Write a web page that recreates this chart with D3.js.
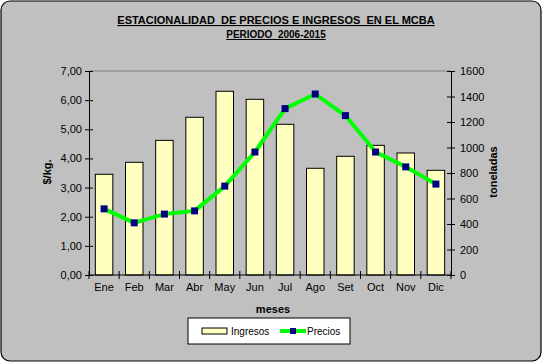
<!DOCTYPE html>
<html>
<head>
<meta charset="utf-8">
<script src="https://cdn.jsdelivr.net/npm/d3@7"></script>
<style>
  body { margin: 0; background: #fff; }
  text { font-family: Arial, "Liberation Sans", sans-serif; }
</style>
</head>
<body>
<script>
// months, tonnage (Ingresos) and price (Precios)
const meses = ['Ene', 'Feb', 'Mar', 'Abr', 'May', 'Jun', 'Jul', 'Ago', 'Set', 'Oct', 'Nov', 'Dic'];
const ingresos = [790, 884, 1056, 1237, 1441, 1378, 1182, 837, 931, 1017, 957, 821];
const precios = [2.27, 1.79, 2.09, 2.20, 3.05, 4.22, 5.71, 6.21, 5.47, 4.22, 3.71, 3.12];
const leftTicks = [0, 1, 2, 3, 4, 5, 6, 7];
const rightTicks = [0, 200, 400, 600, 800, 1000, 1200, 1400, 1600];

const w = 543, h = 363;
const margin = { top: 71, right: 92, bottom: 88, left: 89 };

const svg = d3.select('body').append('svg')
  .attr('width', w)
  .attr('height', h);

// chart background with rounded border
svg.append('rect')
  .attr('x', 1).attr('y', 1)
  .attr('width', w - 3).attr('height', h - 3)
  .attr('rx', 9)
  .attr('fill', '#c0c0c0')
  .attr('stroke', '#000')
  .attr('stroke-width', 1.2);

// titles
svg.append('text')
  .attr('x', 276).attr('y', 24)
  .attr('text-anchor', 'middle')
  .attr('font-size', 11).attr('font-weight', 'bold')
  .attr('text-decoration', 'underline')
  .style('white-space', 'pre')
  .text('ESTACIONALIDAD  DE PRECIOS E INGRESOS  EN EL MCBA');
svg.append('text')
  .attr('x', 276).attr('y', 38)
  .attr('text-anchor', 'middle')
  .attr('font-size', 10).attr('font-weight', 'bold')
  .attr('text-decoration', 'underline')
  .style('white-space', 'pre')
  .text('PERIODO  2006-2015');

// scales in page coordinates
const plotL = margin.left, plotR = w - margin.right;
const plotT = margin.top, plotB = h - margin.bottom;
const x = d3.scaleBand()
  .domain(meses)
  .range([plotL, plotR])
  .paddingInner(0.42)
  .paddingOuter(0.21);
const xBound = d3.scaleLinear().domain([0, meses.length]).range([plotL, plotR]);
const yLeft = d3.scaleLinear().domain([0, 7]).range([plotB, plotT]);
const yRight = d3.scaleLinear().domain([0, 1600]).range([plotB, plotT]);

// plot area top border
svg.append('line')
  .attr('x1', plotL).attr('x2', plotR)
  .attr('y1', plotT).attr('y2', plotT)
  .attr('stroke', '#808080');

// bars
svg.selectAll('rect.bar')
  .data(ingresos)
  .enter()
  .append('rect')
  .attr('class', 'bar')
  .attr('x', (d, i) => x(meses[i]))
  .attr('y', d => yRight(d))
  .attr('width', x.bandwidth())
  .attr('height', d => plotB - yRight(d))
  .attr('fill', '#ffffc0')
  .attr('stroke', '#000')
  .attr('stroke-width', 1);

// left axis
const yAxisL = d3.axisLeft(yLeft)
  .tickValues(leftTicks)
  .tickSizeInner(4).tickSizeOuter(0)
  .tickFormat(d => d3.format('.2f')(d).replace('.', ','));
const gl = svg.append('g')
  .attr('transform', `translate(${plotL},0)`)
  .call(yAxisL);
gl.selectAll('.tick line').attr('x2', 4).attr('x1', -4);
gl.selectAll('text').attr('font-size', 11).attr('x', -7).attr('fill', '#000');

// right axis
const yAxisR = d3.axisRight(yRight)
  .tickValues(rightTicks)
  .tickSizeInner(4).tickSizeOuter(0)
  .tickFormat(d3.format('d'));
const gr = svg.append('g')
  .attr('transform', `translate(${plotR},0)`)
  .call(yAxisR);
gr.selectAll('.tick line').attr('x1', -4).attr('x2', 4);
gr.selectAll('text').attr('font-size', 11).attr('x', 9).attr('fill', '#000');

// bottom axis: ticks at category boundaries, labels centred on bars
svg.append('line')
  .attr('x1', plotL).attr('x2', plotR)
  .attr('y1', plotB).attr('y2', plotB)
  .attr('stroke', '#000');
svg.selectAll('line.tk')
  .data(d3.range(meses.length + 1))
  .enter()
  .append('line')
  .attr('class', 'tk')
  .attr('x1', d => xBound(d)).attr('x2', d => xBound(d))
  .attr('y1', plotB - 4).attr('y2', plotB + 4)
  .attr('stroke', '#000');
svg.selectAll('text.xl')
  .data(meses)
  .enter()
  .append('text')
  .attr('class', 'xl')
  .attr('x', d => x(d) + x.bandwidth() / 2)
  .attr('y', plotB + 16)
  .attr('text-anchor', 'middle')
  .attr('font-size', 11)
  .text(d => d);

// price line
const line = d3.line()
  .x((d, i) => x(meses[i]) + x.bandwidth() / 2)
  .y(d => yLeft(d));
svg.append('path')
  .datum(precios)
  .attr('d', line)
  .attr('fill', 'none')
  .attr('stroke', '#00ff00')
  .attr('stroke-width', 4)
  .attr('stroke-linejoin', 'round');

svg.selectAll('rect.mk')
  .data(precios)
  .enter()
  .append('rect')
  .attr('class', 'mk')
  .attr('x', (d, i) => x(meses[i]) + x.bandwidth() / 2 - 3.5)
  .attr('y', d => yLeft(d) - 3.5)
  .attr('width', 7).attr('height', 7)
  .attr('fill', '#000080');

// axis titles
svg.append('text')
  .attr('transform', 'translate(51,172) rotate(-90)')
  .attr('text-anchor', 'middle')
  .attr('font-size', 11).attr('font-weight', 'bold')
  .text('$/kg.');
svg.append('text')
  .attr('transform', 'translate(497,172) rotate(-90)')
  .attr('text-anchor', 'middle')
  .attr('font-size', 11).attr('font-weight', 'bold')
  .text('toneladas');
svg.append('text')
  .attr('x', 273).attr('y', 313)
  .attr('text-anchor', 'middle')
  .attr('font-size', 11).attr('font-weight', 'bold')
  .text('meses');

// legend
const lg = svg.append('g').attr('transform', 'translate(188,318)');
lg.append('rect')
  .attr('width', 162).attr('height', 26)
  .attr('fill', '#fff').attr('stroke', '#000');
lg.append('rect')
  .attr('x', 14).attr('y', 10).attr('width', 25).attr('height', 6)
  .attr('fill', '#ffffc0').attr('stroke', '#000');
lg.append('text')
  .attr('x', 43).attr('y', 17)
  .attr('font-size', 10)
  .text('Ingresos');
lg.append('line')
  .attr('x1', 92).attr('x2', 118).attr('y1', 13).attr('y2', 13)
  .attr('stroke', '#00ff00').attr('stroke-width', 4);
lg.append('rect')
  .attr('x', 102).attr('y', 10).attr('width', 6).attr('height', 6)
  .attr('fill', '#000080');
lg.append('text')
  .attr('x', 119).attr('y', 17)
  .attr('font-size', 10)
  .text('Precios');
</script>
</body>
</html>
